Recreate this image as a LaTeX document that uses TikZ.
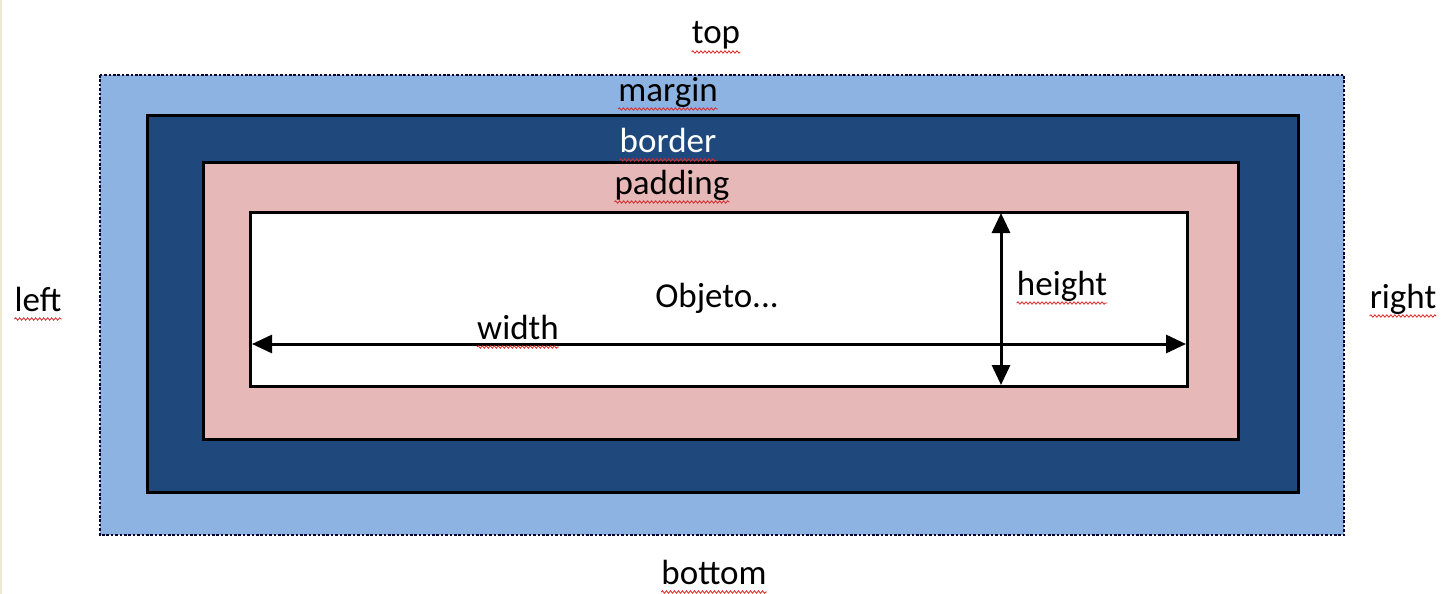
\documentclass[tikz,border=0pt]{standalone}
\usepackage{fontspec}
\setmainfont{Carlito}
\usetikzlibrary{arrows.meta,decorations.pathmorphing}
\tikzset{>={Triangle[width=18pt,length=20pt]}}
\definecolor{marginblue}{RGB}{141,179,226}
\definecolor{borderblue}{RGB}{31,73,125}
\definecolor{paddingpink}{RGB}{230,185,184}
\definecolor{edgebeige}{RGB}{238,232,210}
\definecolor{spellred}{RGB}{220,40,40}

\begin{document}
\begin{tikzpicture}[x=1pt,y=-1pt,
    marginbox/.style={fill=marginblue},
    marginline/.style={line width=2.8pt,dash pattern=on 2.6pt off 1.8pt,draw=black!80!blue},
    layer/.style={draw=black,line width=3pt},
    lbl/.style={anchor=base,inner sep=0pt},
    measure/.style={line width=3pt},
    spell/.style={draw=spellred,line width=0.8pt,decorate,
      decoration={snake,amplitude=1.2pt,segment length=4pt}}]

  \fontsize{35}{40}\selectfont
  \useasboundingbox (0,0) rectangle (1441,594);
  \draw[line width=2pt,draw=edgebeige] (1,0) -- (1,594);

  % boxes, from the outside in
  \fill[marginbox] (100,75) rectangle (1344,535);
  \draw[marginline] (100,75) rectangle (1344,535);
  \draw[layer,fill=borderblue] (147,115) rectangle (1298,492);
  \draw[layer,fill=paddingpink] (203,162) rectangle (1238,439);
  \draw[layer,fill=white] (250,212) rectangle (1187,386);

  % names
  \node[lbl] (top) at (716,44) {top};
  \node[lbl] (margin) at (668,101) {margin};
  \node[lbl,text=white] (border) at (668,152) {border};
  \node[lbl] (padding) at (672,194) {padding};
  \node[lbl] (left) at (38,311) {left};
  \node[lbl] (right) at (1403,308) {right};
  \node[lbl] (bottom) at (714,584) {bottom};
  \node[lbl] (obj) at (717,307) {Objeto...};
  \node[lbl] (width) at (518,339) {width};
  \node[lbl] (height) at (1062,295) {height};

  % measures
  \coordinate (wl) at (252,344);
  \coordinate (wr) at (1186,344);
  \coordinate (ht) at (1001,213);
  \coordinate (hb) at (1001,385);
  \draw[<->,measure] (wl) -- (wr);
  \draw[<->,measure] (ht) -- (hb);

  % spell check marks
  \foreach \n in {top,margin,border,padding,left,right,bottom,width,height}
    \draw[spell] ([yshift=-8pt]\n.base west) -- ([yshift=-8pt]\n.base east);

\end{tikzpicture}
\end{document}
